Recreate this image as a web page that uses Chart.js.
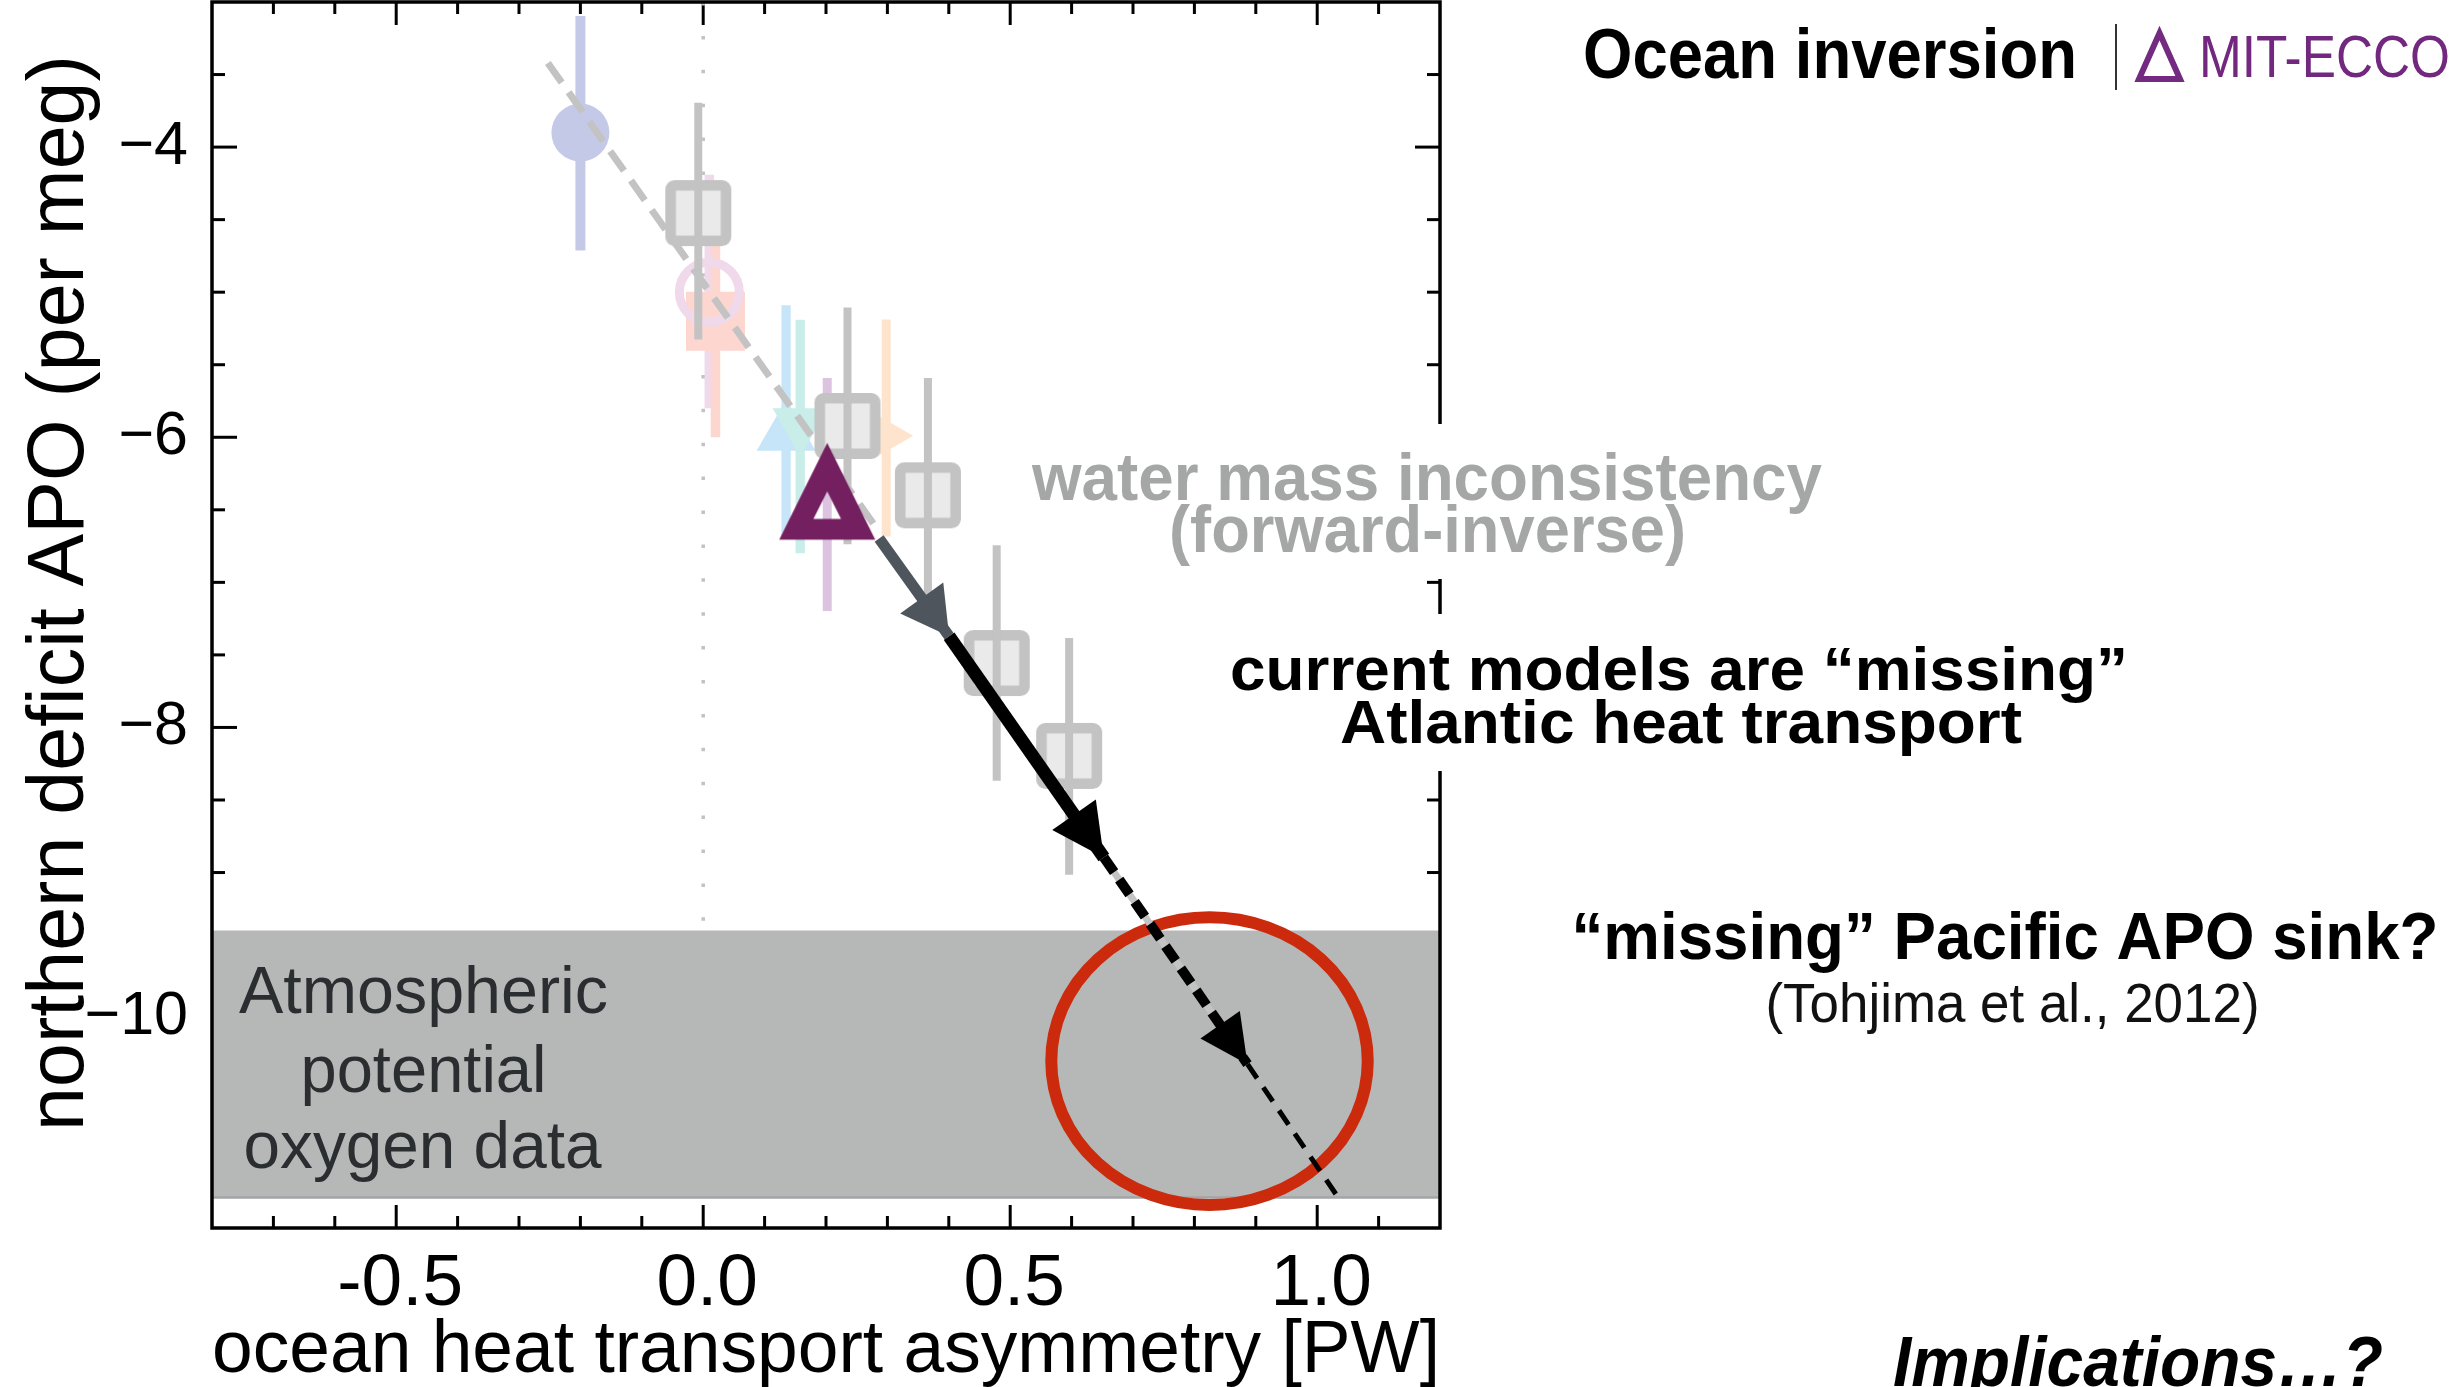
<!DOCTYPE html>
<html>
<head>
<meta charset="utf-8">
<script src="https://cdn.jsdelivr.net/npm/chart.js@4.4.1/dist/chart.umd.min.js"></script>
<style>
  html, body { margin: 0; padding: 0; background: #fff; overflow: hidden; }
  #wrap { width: 2463px; height: 1387px; position: relative; }
</style>
</head>
<body>
<div id="wrap"><canvas id="line-chart"></canvas></div>
<script>
// axes
var xMin = -0.8, xMax = 1.2;
var yMin = -11.45, yMax = -3.0;
var xTicks = [-0.5, 0.0, 0.5, 1.0];
var yTicks = [-10, -8, -6, -4];

// grey squares (forward models) with error bars
var squareX  = [-0.008, 0.235, 0.366, 0.478, 0.596];
var squareY  = [-4.455, -5.922, -6.400, -7.556, -8.196];
var squareLo = [-5.326, -6.737, -7.200, -8.368, -9.015];
var squareHi = [-3.695, -5.106, -5.591, -6.744, -7.384];

// faded coloured model markers (circle, square, ring, triangle, triangle down, wedge)
var modelX  = [-0.200, 0.020, 0.010, 0.135, 0.158, 0.298];
var modelY  = [-3.900, -5.200, -5.000, -5.975, -5.911, -5.990];
var modelLo = [-4.712, -6.000, -5.800, -6.680, -6.800, -6.684];
var modelHi = [-3.096, -4.400, -4.190, -5.090, -5.190, -5.189];

// MIT-ECCO ocean inversion
var eccoX  = [0.202];
var eccoY  = [-6.373];
var eccoLo = [-7.197];
var eccoHi = [-5.591];

// dashed fit through the models
var fitX = [-0.253, 0.279];
var fitY = [-3.420, -6.607];

// arrow path
var arrowX = [0.2865, 0.4005, 0.6525, 0.8865, 1.035];
var arrowY = [-6.698, -7.371, -8.896, -10.321, -11.245];

// dotted zero line
var zeroX = [0, 0];
var zeroY = [-3.0, -9.38];

// APO data band
var bandTop = -9.40;
var bandBottom = -11.24;

// red ellipse (centre and radii in data units)
var ellipseCentre = [0.8246, -10.30];
var ellipseRadius = [0.2577, 0.991];

Chart.defaults.font.family = '"Liberation Sans", Arial, sans-serif';

function pontos(xs, ys) {
  var r = [];
  for (var i = 0; i < xs.length; i++) r.push({x: xs[i], y: ys[i]});
  return r;
}

function barra(x, lo, hi, cor, larg, ordem) {
  return { data: [{x: x, y: lo}, {x: x, y: hi}], showLine: true, borderColor: cor,
           borderWidth: larg, borderCapStyle: 'butt', pointRadius: 0, order: ordem };
}

function caminhoArred(g, x, y, w, h, r) {
  g.beginPath();
  g.moveTo(x + r, y); g.lineTo(x + w - r, y); g.arcTo(x + w, y, x + w, y + r, r);
  g.lineTo(x + w, y + h - r); g.arcTo(x + w, y + h, x + w - r, y + h, r);
  g.lineTo(x + r, y + h); g.arcTo(x, y + h, x, y + h - r, r);
  g.lineTo(x, y + r); g.arcTo(x, y, x + r, y, r);
  g.closePath();
}

function iconeQuadrado() {
  var c = document.createElement('canvas');
  c.width = 68; c.height = 68;
  var g = c.getContext('2d');
  caminhoArred(g, 6.3, 6.3, 55.4, 55.4, 4);
  g.fillStyle = '#e9eae9'; g.fill();
  g.lineWidth = 10.6; g.strokeStyle = '#c3c3c3'; g.stroke();
  return c;
}

function iconeTriangulo() {
  var c = document.createElement('canvas');
  c.width = 100; c.height = 100;
  var g = c.getContext('2d');
  g.beginPath();
  g.moveTo(50, 1.5); g.lineTo(98, 98.2); g.lineTo(2, 98.2); g.closePath();
  g.moveTo(50, 50); g.lineTo(36.2, 77.5); g.lineTo(63.8, 77.5); g.closePath();
  g.fillStyle = '#741f60';
  g.fill('evenodd');
  return c;
}

var datasets = [];

// band
datasets.push({ nome: 'faixa', data: [{x: xMin, y: bandTop}, {x: xMax, y: bandTop}], showLine: true,
  borderWidth: 0, borderColor: 'rgba(0,0,0,0)', backgroundColor: '#b5b8b6', fill: {value: bandBottom}, pointRadius: 0, order: 15 });
datasets.push({ nome: 'faixaBorda', data: [{x: xMin, y: bandBottom}, {x: xMax, y: bandBottom}], showLine: true,
  borderWidth: 2.5, borderColor: '#a3a4a7', pointRadius: 0, order: 14 });

// zero line
datasets.push({ data: pontos(zeroX, zeroY), showLine: true, borderColor: '#c2c2c2', borderWidth: 3.5,
  borderDash: [3.5, 30.4], borderCapStyle: 'butt', pointRadius: 0, order: 13 });

// coloured error bars
var modelCores = ['#c5c9e8', '#fdd6cf', '#efd9ea', '#c6e5f8', '#c9eee9', '#fee4cd'];
var modelLarg = [10, 9.5, 9.5, 9.3, 9.3, 9];
for (var i = 0; i < modelX.length; i++) {
  datasets.push(barra(modelX[i], modelLo[i], modelHi[i], modelCores[i], modelLarg[i], 12));
}
datasets.push(barra(eccoX[0], eccoLo[0], eccoHi[0], '#dcc4e1', 9, 11));

// coloured markers
datasets.push({ data: pontos(modelX, modelY), order: 10,
  pointStyle: ['circle', 'rect', 'circle', 'triangle', 'triangle', 'triangle'],
  pointRadius: [29, 41.7, 30, 34, 32, 27],
  pointRotation: [0, 0, 0, 0, 180, 90],
  pointBackgroundColor: ['#c5c9e8', '#fdd6cf', 'rgba(0,0,0,0)', '#c6e5f8', '#c9eee9', '#fee4cd'],
  pointBorderColor: ['#c5c9e8', '#fdd6cf', '#efd9ea', '#c6e5f8', '#c9eee9', '#fee4cd'],
  pointBorderWidth: [0, 0, 9, 0, 0, 0] });

// dashed fit
datasets.push({ data: pontos(fitX, fitY), showLine: true, borderColor: '#c3c3c3', borderWidth: 7,
  borderDash: [24, 12], borderCapStyle: 'butt', pointRadius: 0, order: 9 });

// grey squares and their bars
datasets.push({ data: pontos(squareX, squareY), pointStyle: iconeQuadrado(), pointRadius: 33, order: 8 });
for (var j = 0; j < squareX.length; j++) {
  datasets.push(barra(squareX[j], squareLo[j], squareHi[j], '#c3c3c3', 8, 7));
}

// MIT-ECCO triangle
datasets.push({ data: pontos(eccoX, eccoY), pointStyle: iconeTriangulo(), pointRadius: 48, order: 6 });

// arrows
datasets.push({ data: [{x: arrowX[0], y: arrowY[0]}, {x: arrowX[1], y: arrowY[1]}], showLine: true,
  borderColor: '#4f555c', borderWidth: 11, borderCapStyle: 'butt', pointRadius: 0, order: 5,
  ponta: {comp: 47, meia: 26.5, cor: '#4f555c'} });
datasets.push({ data: [{x: arrowX[1], y: arrowY[1]}, {x: arrowX[2], y: arrowY[2]}], showLine: true,
  borderColor: '#000', borderWidth: 13, borderCapStyle: 'butt', pointRadius: 0, order: 4,
  ponta: {comp: 52, meia: 26.6, cor: '#000'} });
datasets.push({ data: [{x: arrowX[2], y: arrowY[2]}, {x: arrowX[3], y: arrowY[3]}], showLine: true,
  borderColor: '#c4c4c4', borderWidth: 7, pointRadius: 0, order: 3 });
datasets.push({ data: [{x: arrowX[2], y: arrowY[2]}, {x: arrowX[3], y: arrowY[3]}], showLine: true,
  borderColor: '#000', borderWidth: 10, borderDash: [18, 9], borderCapStyle: 'butt', pointRadius: 0, order: 2,
  ponta: {comp: 48, meia: 24, cor: '#000'} });
datasets.push({ data: [{x: arrowX[3], y: arrowY[3]}, {x: arrowX[4], y: arrowY[4]}], showLine: true,
  borderColor: '#000', borderWidth: 5, borderDash: [17, 11], borderCapStyle: 'butt', pointRadius: 0, order: 1 });

function linha(ctx, x0, y0, x1, y1) {
  ctx.beginPath(); ctx.moveTo(x0, y0); ctx.lineTo(x1, y1); ctx.stroke();
}

function texto(ctx, str, x, y, fonte, cor, largura, alinha) {
  ctx.save();
  ctx.font = fonte;
  ctx.fillStyle = cor;
  ctx.textBaseline = 'alphabetic';
  ctx.textAlign = 'left';
  var w = ctx.measureText(str).width;
  var s = largura / w;
  var x0 = alinha === 'center' ? x - largura / 2 : x;
  ctx.translate(x0, y);
  ctx.scale(s, 1);
  ctx.fillText(str, 0, 0);
  ctx.restore();
}

function ponta(ctx, x0, y0, x1, y1, p) {
  var dx = x1 - x0, dy = y1 - y0, d = Math.sqrt(dx * dx + dy * dy);
  var ux = dx / d, uy = dy / d;
  var bx = x1 - ux * p.comp, by = y1 - uy * p.comp;
  ctx.beginPath();
  ctx.moveTo(x1, y1);
  ctx.lineTo(bx - uy * p.meia, by + ux * p.meia);
  ctx.lineTo(bx + uy * p.meia, by - ux * p.meia);
  ctx.closePath();
  ctx.fillStyle = p.cor;
  ctx.fill();
}

var moldura = {
  id: 'moldura',
  beforeDatasetsDraw: function(chart) {
    var ctx = chart.ctx, a = chart.chartArea, sx = chart.scales.x, sy = chart.scales.y;
    ctx.save();
    ctx.strokeStyle = '#000';
    ctx.lineWidth = 3;
    for (var i = 1; i < 20; i++) {
      var v = Math.round((xMin + i * 0.1) * 10) / 10;
      var px = sx.getPixelForValue(v);
      var len = Math.abs(v * 2 - Math.round(v * 2)) < 1e-6 ? 23 : 12;
      linha(ctx, px, a.bottom, px, a.bottom - len);
      linha(ctx, px, a.top, px, a.top + len);
    }
    for (var k = 0; k <= 15; k++) {
      var w = -11 + k * 0.5;
      var py = sy.getPixelForValue(w);
      var l2 = (w % 2 === 0) ? 25 : 13;
      linha(ctx, a.left, py, a.left + l2, py);
      linha(ctx, a.right, py, a.right - l2, py);
    }
    ctx.restore();
  },
  afterDatasetDraw: function(chart, args) {
    var ds = chart.data.datasets[args.index];
    if (ds.nome !== 'faixaBorda') return;
    var ctx = chart.ctx, sx = chart.scales.x, sy = chart.scales.y;
    ctx.save();
    var cx = sx.getPixelForValue(ellipseCentre[0]);
    var cy = sy.getPixelForValue(ellipseCentre[1]);
    var rx = sx.getPixelForValue(ellipseCentre[0] + ellipseRadius[0]) - cx;
    var ry = sy.getPixelForValue(ellipseCentre[1] - ellipseRadius[1]) - cy;
    ctx.beginPath();
    ctx.ellipse(cx, cy, rx, ry, 0, 0, Math.PI * 2);
    ctx.strokeStyle = '#cc2a0d';
    ctx.lineWidth = 12;
    ctx.stroke();
    ctx.restore();
    var f = '67px "Liberation Sans"';
    texto(ctx, 'Atmospheric', 423.5, 1013, f, '#2b2e31', 369, 'center');
    texto(ctx, 'potential', 423.5, 1091.5, f, '#2b2e31', 246, 'center');
    texto(ctx, 'oxygen data', 422.5, 1168, f, '#2b2e31', 358, 'center');
  },
  afterDatasetsDraw: function(chart) {
    var ctx = chart.ctx, a = chart.chartArea;
    ctx.save();
    chart.data.datasets.forEach(function(ds, i) {
      if (!ds.ponta) return;
      var pts = chart.getDatasetMeta(i).data;
      ponta(ctx, pts[0].x, pts[0].y, pts[1].x, pts[1].y, ds.ponta);
    });
    ctx.strokeStyle = '#000';
    ctx.lineWidth = 3.5;
    ctx.strokeRect(a.left, a.top, a.right - a.left, a.bottom - a.top);
    ctx.restore();
  },
  afterDraw: function(chart) {
    var ctx = chart.ctx;
    ctx.save();
    ctx.fillStyle = '#fff';
    ctx.fillRect(1018, 424, 822, 155);
    ctx.fillRect(1218, 614, 922, 157);
    ctx.restore();

    texto(ctx, 'Ocean inversion', 1583, 78, 'bold 70px "Liberation Sans"', '#000', 494, 'left');
    ctx.save();
    ctx.strokeStyle = '#333'; ctx.lineWidth = 2;
    linha(ctx, 2116, 24, 2116, 90);
    ctx.strokeStyle = '#742a80'; ctx.lineWidth = 6; ctx.lineJoin = 'miter';
    ctx.beginPath(); ctx.moveTo(2159.5, 33); ctx.lineTo(2180, 79); ctx.lineTo(2139, 79); ctx.closePath(); ctx.stroke();
    ctx.restore();
    texto(ctx, 'MIT-ECCO', 2199, 77, '59px "Liberation Sans"', '#73287f', 251, 'left');

    texto(ctx, 'water mass inconsistency', 1427, 500, 'bold 67px "Liberation Sans"', '#a5a7a6', 790, 'center');
    texto(ctx, '(forward-inverse)', 1427.5, 552, 'bold 67px "Liberation Sans"', '#a5a7a6', 517, 'center');

    texto(ctx, 'current models are \u201cmissing\u201d', 1679, 690, 'bold 62px "Liberation Sans"', '#000', 898, 'center');
    texto(ctx, 'Atlantic heat transport', 1681, 743, 'bold 62px "Liberation Sans"', '#000', 682, 'center');

    texto(ctx, '\u201cmissing\u201d Pacific APO sink?', 2005, 959, 'bold 66px "Liberation Sans"', '#000', 867, 'center');
    texto(ctx, '(Tohjima et al., 2012)', 2012.5, 1021.5, '56px "Liberation Sans"', '#111', 494, 'center');

    texto(ctx, 'Implications\u2026?', 1893, 1386, 'italic bold 70px "Liberation Sans"', '#000', 490, 'left');
  }
};

var mChart = new Chart(document.getElementById('line-chart'), {
  type: 'scatter',
  data: { datasets: datasets },
  options: {
    responsive: true,
    maintainAspectRatio: false,
    animation: false,
    events: [],
    layout: { autoPadding: false, padding: { left: 0, top: 2, right: 1023, bottom: 0 } },
    plugins: { legend: { display: false }, tooltip: { enabled: false } },
    scales: {
      x: {
        type: 'linear', min: xMin, max: xMax,
        afterBuildTicks: function(s) { s.ticks = xTicks.map(function(v) { return {value: v}; }); },
        afterFit: function(s) { s.height = 159; s.paddingLeft = 0; s.paddingRight = 0; },
        grid: { display: false },
        border: { display: false },
        ticks: { color: '#000', font: { size: 73 }, padding: 5, labelOffset: 4, maxRotation: 0, autoSkip: false,
                 callback: function(v) { return v.toFixed(1); } },
        title: { display: true, text: 'ocean heat transport asymmetry [PW]', color: '#000',
                 font: { size: 75 }, padding: { top: 0, bottom: -9 } }
      },
      y: {
        type: 'linear', min: yMin, max: yMax,
        afterBuildTicks: function(s) { s.ticks = yTicks.map(function(v) { return {value: v}; }); },
        afterFit: function(s) { s.width = 212; s.paddingTop = 0; s.paddingBottom = 0; },
        grid: { display: false },
        border: { display: false },
        ticks: { color: '#000', font: { size: 61 }, padding: 16,
                 callback: function(v) { return (v < 0 ? '\u2212' : '') + Math.abs(v); } },
        // leading spaces nudge the centred title up a little, like the original
        title: { display: true, text: '  northern deficit APO (per meg)', color: '#000',
                 font: { size: 79 }, padding: { top: 14, bottom: 0 } }
      }
    }
  },
  plugins: [moldura]
});
</script>
</body>
</html>
